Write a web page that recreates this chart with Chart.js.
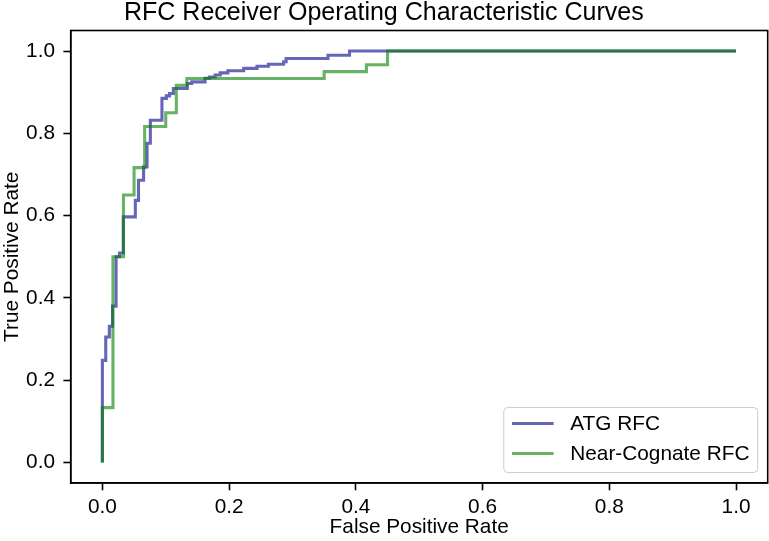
<!DOCTYPE html>
<html>
<head>
<meta charset="utf-8">
<script src="https://cdn.jsdelivr.net/npm/chart.js@4/dist/chart.umd.min.js"></script>
<style>
  html, body { margin: 0; padding: 0; background: #fff; }
  #wrap { width: 769px; height: 541px; }
</style>
</head>
<body>
<div id="wrap"><canvas id="roc"></canvas></div>
<script>
// ROC curve corners
const ATG_FPR = [0, 0, 0.0053, 0.0053, 0.011, 0.011, 0.016, 0.016, 0.0216, 0.0216, 0.027, 0.027, 0.033, 0.033,
    0.052, 0.052, 0.057, 0.057, 0.065, 0.065, 0.0705, 0.0705, 0.0757, 0.0757, 0.094, 0.094, 0.101, 0.101,
    0.106, 0.106, 0.112, 0.112, 0.134, 0.134, 0.141, 0.141, 0.162, 0.162, 0.169, 0.169, 0.178, 0.178,
    0.186, 0.186, 0.198, 0.198, 0.223, 0.223, 0.244, 0.244, 0.262, 0.262, 0.286, 0.286, 0.29, 0.29,
    0.356, 0.356, 0.39, 0.39, 1.0];
const ATG_TPR = [0, 0.248, 0.248, 0.305, 0.305, 0.331, 0.331, 0.380, 0.380, 0.500, 0.500, 0.509, 0.509,
    0.597, 0.597, 0.637, 0.637, 0.686, 0.686, 0.718, 0.718, 0.776, 0.776, 0.832, 0.832, 0.885, 0.885,
    0.891, 0.891, 0.897, 0.897, 0.909, 0.909, 0.921, 0.921, 0.925, 0.925, 0.934, 0.934, 0.937, 0.937,
    0.942, 0.942, 0.947, 0.947, 0.952, 0.952, 0.958, 0.958, 0.963, 0.963, 0.968, 0.968, 0.974, 0.974,
    0.982, 0.982, 0.990, 0.990, 1.0, 1.0];

const NC_FPR = [0, 0, 0.0167, 0.0167, 0.0333, 0.0333, 0.05, 0.05, 0.0667, 0.0667, 0.1, 0.1,
    0.1167, 0.1167, 0.1333, 0.1333, 0.35, 0.35, 0.4167, 0.4167, 0.45, 0.45, 1.0];
const NC_TPR = [0, 0.1333, 0.1333, 0.5, 0.5, 0.65, 0.65, 0.7167, 0.7167, 0.8167, 0.8167, 0.85, 0.85,
    0.9167, 0.9167, 0.9333, 0.9333, 0.95, 0.95, 0.9667, 0.9667, 1.0, 1.0];

const TICKS = [0, 0.2, 0.4, 0.6, 0.8, 1.0];
const LABELS = ["ATG RFC", "Near-Cognate RFC"];
const COLORS = ["rgba(0,0,139,0.6)", "rgba(0,128,0,0.6)"];

const FONT = "'Liberation Sans', Arial, sans-serif";
const FS = 20.8; // 10pt przy 150 dpi

function toPoints(xs, ys) {
    return xs.map((x, i) => ({ x: x, y: ys[i] }));
}

// rama dookola obszaru wykresu + legenda w prawym dolnym rogu
const framePlugin = {
    id: "frame",
    afterDraw(chart) {
        const { ctx, chartArea: a } = chart;
        ctx.save();
        ctx.strokeStyle = "#000";
        ctx.lineWidth = 1.6;
        ctx.strokeRect(a.left, a.top, a.right - a.left, a.bottom - a.top);

        ctx.font = FS + "px " + FONT;
        let textW = Math.max(...LABELS.map(l => ctx.measureText(l).width));
        let right = a.right - 10;
        let bottom = a.bottom - 10.5;
        let left = right - (8.3 + 41.6 + 16.6 + textW + 8.3);
        let top = bottom - 65;
        ctx.beginPath();
        ctx.roundRect(left, top, right - left, bottom - top, 4);
        ctx.fillStyle = "rgba(255,255,255,0.8)";
        ctx.fill();
        ctx.strokeStyle = "#cccccc";
        ctx.lineWidth = 1;
        ctx.stroke();

        LABELS.forEach((lab, i) => {
            let y = top + 16 + i * 30;
            ctx.beginPath();
            ctx.strokeStyle = COLORS[i];
            ctx.lineWidth = 3.1;
            ctx.moveTo(left + 8.3, y);
            ctx.lineTo(left + 49.9, y);
            ctx.stroke();
            ctx.fillStyle = "#000";
            ctx.textBaseline = "middle";
            ctx.textAlign = "left";
            ctx.fillText(lab, left + 66.5, y + 1);
        });
        ctx.restore();
    }
};

function axisTicks(scale) {
    scale.ticks = TICKS.map(v => ({ value: v }));
}

const gridOpts = { drawOnChartArea: false, drawTicks: true, tickLength: 7.3, tickColor: "#000", tickWidth: 1.6 };

new Chart(document.getElementById("roc"), {
    type: "line",
    data: {
        datasets: [{
            label: LABELS[0],
            data: toPoints(ATG_FPR, ATG_TPR),
            borderColor: COLORS[0],
            borderWidth: 3.1,
            pointRadius: 0,
            tension: 0,
            fill: false,
            order: 2
        }, {
            label: LABELS[1],
            data: toPoints(NC_FPR, NC_TPR),
            borderColor: COLORS[1],
            borderWidth: 3.1,
            pointRadius: 0,
            tension: 0,
            fill: false,
            order: 1
        }]
    },
    options: {
        responsive: true,
        maintainAspectRatio: false,
        animation: false,
        layout: { padding: { left: 0, right: 1.3, top: 0, bottom: 0 } },
        plugins: {
            legend: { display: false },
            tooltip: { enabled: false },
            title: {
                display: true,
                text: "RFC Receiver Operating Characteristic Curves",
                color: "#000",
                font: { family: FONT, size: 25, weight: "normal", lineHeight: 1.0 },
                padding: { top: 0.5, bottom: 5 }
            }
        },
        scales: {
            x: {
                type: "linear",
                min: -0.05,
                max: 1.05,
                afterBuildTicks: axisTicks,
                afterFit(scale) { scale.height = 58; },
                grid: gridOpts,
                border: { display: true, color: "#000", width: 1.6 },
                ticks: {
                    color: "#000",
                    font: { family: FONT, size: FS },
                    padding: 4.5,
                    maxRotation: 0,
                    callback: v => v.toFixed(1)
                },
                title: {
                    display: true,
                    text: "False Positive Rate",
                    color: "#000",
                    font: { family: FONT, size: FS },
                    padding: { top: 0, bottom: 1 }
                }
            },
            y: {
                type: "linear",
                min: -0.05,
                max: 1.05,
                afterBuildTicks: axisTicks,
                afterFit(scale) { scale.width = 70.7; },
                grid: gridOpts,
                border: { display: true, color: "#000", width: 1.6 },
                ticks: {
                    color: "#000",
                    font: { family: FONT, size: FS },
                    padding: 8.4,
                    callback: v => v.toFixed(1)
                },
                title: {
                    display: true,
                    text: "True Positive Rate",
                    color: "#000",
                    font: { family: FONT, size: FS },
                    padding: { top: 0, bottom: 0 }
                }
            }
        }
    },
    plugins: [framePlugin]
});
</script>
</body>
</html>
